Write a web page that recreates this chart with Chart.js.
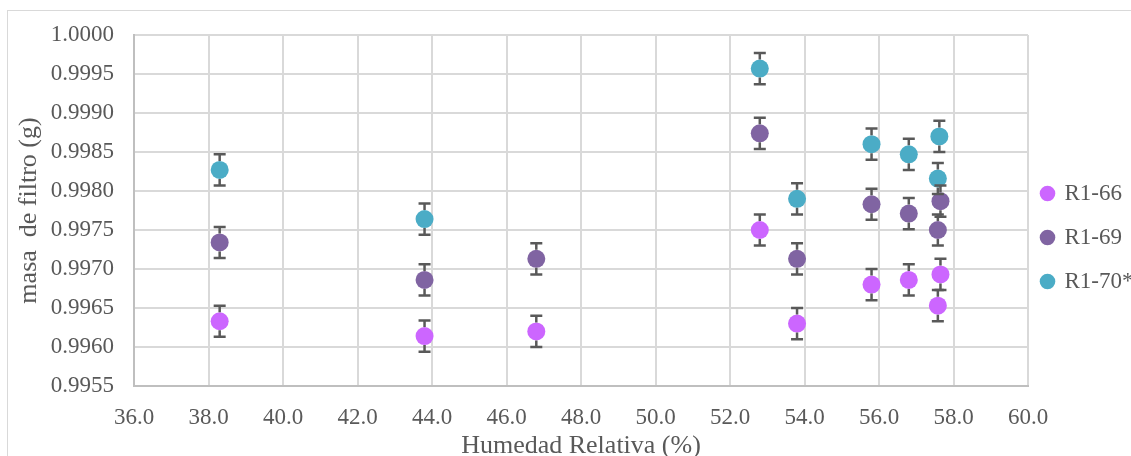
<!DOCTYPE html>
<html>
<head>
<meta charset="utf-8">
<script src="https://cdn.jsdelivr.net/npm/chart.js@4/dist/chart.umd.min.js"></script>
<style>
  html, body { margin: 0; padding: 0; background: #fff; }
  #wrap { position: relative; width: 1131px; height: 456px; }
  #frame { position: absolute; left: 7px; top: 10px; width: 1130px; height: 450px; border: 1px solid #d9d9d9; box-sizing: border-box; }
  canvas { position: absolute; left: 0; top: 0; }
</style>
</head>
<body>
<div id="wrap">
  <div id="frame"></div>
  <canvas id="chart" width="1131" height="456"></canvas>
</div>
<script>
// humedad relativa (%)
const humedad = [38.3, 43.8, 46.8, 52.8, 53.8, 55.8, 56.8, 57.65, 57.58];
const humedad70 = [38.3, 43.8, 52.8, 53.8, 55.8, 56.8, 57.62, 57.58];

// masa de filtro (g)
const r166 = [0.99633, 0.99614, 0.99620, 0.99750, 0.99630, 0.99680, 0.99686, 0.99693, 0.99653];
const r169 = [0.99734, 0.99686, 0.99713, 0.99874, 0.99713, 0.99783, 0.99771, 0.99787, 0.99750];
const r170 = [0.99827, 0.99764, 0.99957, 0.99790, 0.99860, 0.99847, 0.99870, 0.99816];

const errorMasa = 0.0002;

const seriesNames = ["R1-66", "R1-69", "R1-70*"];
const seriesColors = ["#CC66FF", "#8064A2", "#4BACC6"];

const yTicks = [0.9955, 0.9960, 0.9965, 0.9970, 0.9975, 0.9980, 0.9985, 0.9990, 0.9995, 1.0000];
const xTicks = [36, 38, 40, 42, 44, 46, 48, 50, 52, 54, 56, 58, 60];

const toPoints = (xs, ys) => ys.map((y, i) => ({ x: xs[i], y: y }));

const FONT = "'Liberation Serif', 'Times New Roman', serif";
const TEXT = "#595959";

// error bars drawn from the scales, marker edge outward + caps
const errorBars = {
  id: "errorBars",
  afterDatasetsDraw(chart) {
    const ctx = chart.ctx;
    const ys = chart.scales.y;
    ctx.save();
    ctx.strokeStyle = "#595959";
    ctx.lineWidth = 2.5;
    chart.data.datasets.forEach((ds, di) => {
      const meta = chart.getDatasetMeta(di);
      meta.data.forEach((pt, i) => {
        const v = ds.data[i].y;
        const top = ys.getPixelForValue(v + errorMasa);
        const bot = ys.getPixelForValue(v - errorMasa);
        const r = 9;
        ctx.beginPath();
        ctx.moveTo(pt.x, pt.y - r); ctx.lineTo(pt.x, top);
        ctx.moveTo(pt.x, pt.y + r); ctx.lineTo(pt.x, bot);
        ctx.moveTo(pt.x - 6, top); ctx.lineTo(pt.x + 6, top);
        ctx.moveTo(pt.x - 6, bot); ctx.lineTo(pt.x + 6, bot);
        ctx.stroke();
      });
    });
    ctx.restore();
  }
};

// fixed legend width, then nudge it a little left/up like the Excel one
const legendPlace = {
  id: "legendPlace",
  beforeInit(chart) {
    const lg = chart.legend;
    const fit = lg.fit;
    lg.fit = function () {
      fit.call(this);
      if (!this.isHorizontal()) this.width = 103;
    };
  },
  afterLayout(chart) {
    const lg = chart.legend;
    lg.left -= 7;
    lg.right = chart.width;
    lg.width = lg.right - lg.left;
    lg.top -= 8;
    lg.bottom -= 8;
  }
};

const makeSet = (idx, pts) => ({
  label: seriesNames[idx],
  data: pts,
  backgroundColor: seriesColors[idx],
  borderColor: seriesColors[idx],
  pointRadius: 9,
  pointHoverRadius: 9,
  pointBorderWidth: 0,
  showLine: false
});

new Chart(document.getElementById("chart"), {
  type: "scatter",
  data: {
    datasets: [
      makeSet(0, toPoints(humedad, r166)),
      makeSet(1, toPoints(humedad, r169)),
      makeSet(2, toPoints(humedad70, r170))
    ]
  },
  plugins: [errorBars, legendPlace],
  options: {
    responsive: false,
    animation: false,
    layout: {
      padding: { left: 0, top: 35, right: 0, bottom: 0 }
    },
    plugins: {
      legend: {
        position: "right",
        labels: {
          usePointStyle: true,
          pointStyle: "circle",
          boxWidth: 11,
          boxHeight: 11,
          padding: 21,
          color: TEXT,
          font: { family: FONT, size: 23 }
        }
      },
      tooltip: { enabled: false }
    },
    scales: {
      x: {
        type: "linear",
        min: 36,
        max: 60,
        afterBuildTicks: (s) => { s.ticks = xTicks.map(v => ({ value: v })); },
        afterFit: (s) => { s.height = 70; },
        ticks: {
          color: TEXT,
          padding: 18,
          font: { family: FONT, size: 23 },
          callback: (v) => Number(v).toFixed(1)
        },
        grid: { color: "#d9d9d9", lineWidth: 2, drawTicks: false },
        border: { color: "#bfbfbf", width: 2 },
        title: {
          display: true,
          text: "Humedad Relativa (%)",
          color: TEXT,
          padding: { top: 0, bottom: -6 },
          font: { family: FONT, size: 26 }
        }
      },
      y: {
        min: 0.9955,
        max: 1.0,
        afterBuildTicks: (s) => { s.ticks = yTicks.map(v => ({ value: v })); },
        afterFit: (s) => { s.width = 134; },
        ticks: {
          color: TEXT,
          padding: 20,
          font: { family: FONT, size: 23 },
          callback: (v) => Number(v).toFixed(4)
        },
        grid: { color: "#d9d9d9", lineWidth: 2, drawTicks: false },
        border: { color: "#bfbfbf", width: 2 },
        title: {
          display: true,
          text: "masa  de filtro (g)",
          color: TEXT,
          padding: { top: 14, bottom: 0 },
          font: { family: FONT, size: 26 }
        }
      }
    }
  }
});
</script>
</body>
</html>
